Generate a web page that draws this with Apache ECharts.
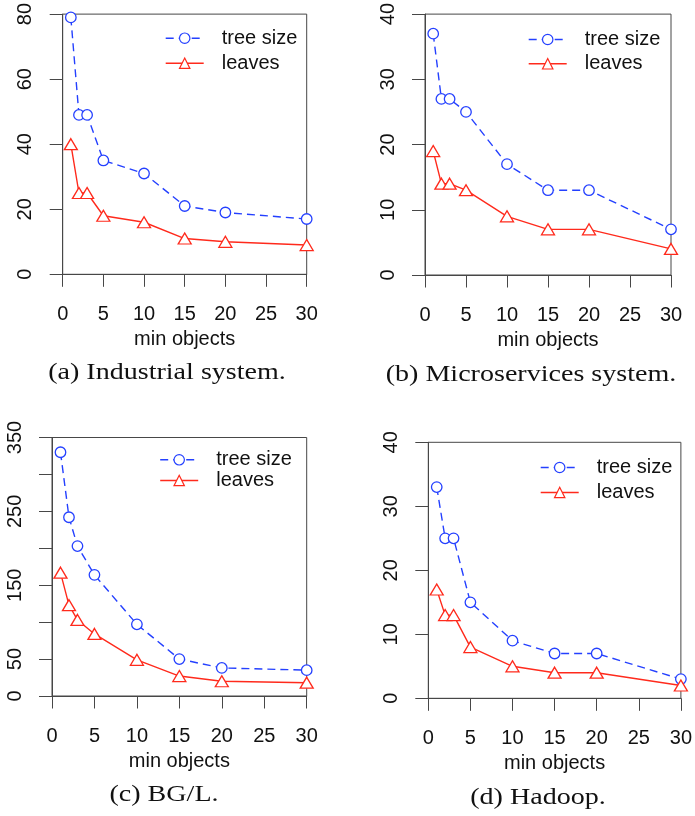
<!DOCTYPE html>
<html>
<head>
<meta charset="utf-8">
<script src="https://cdn.jsdelivr.net/npm/echarts@6/dist/echarts.min.js"></script>
<style>
  html, body { margin: 0; padding: 0; background: #fff; }
  #chart { width: 695px; height: 816px; }
</style>
</head>
<body>
<div id="chart"></div>
<script>
// x positions (min objects setting) shared by all four panels
const minObjects = [1, 2, 3, 5, 10, 15, 20, 30];

// (a) Industrial system
const treeIndustrial = [79, 49, 49, 35, 31, 21, 19, 17];
const leavesIndustrial = [40, 25, 25, 18, 16, 11, 10, 9];
// (b) Microservices system
const treeMicro = [37, 27, 27, 25, 17, 13, 13, 7];
const leavesMicro = [19, 14, 14, 13, 9, 7, 7, 4];
// (c) BG/L
const treeBgl = [330, 242, 203, 164, 97, 50, 38, 35];
const leavesBgl = [167, 123, 103, 84, 49, 27, 20, 18];
// (d) Hadoop
const treeHadoop = [33, 25, 25, 15, 9, 7, 7, 3];
const leavesHadoop = [17, 13, 13, 8, 5, 4, 4, 2];

// axis tick labels
const xTickLabels = ['0', '5', '10', '15', '20', '25', '30'];
const yTicksIndustrial = ['0', '20', '40', '60', '80'];
const yTicksMicro = ['0', '10', '20', '30', '40'];
const yTicksBgl = ['0', '50', '150', '250', '350'];
const yTicksHadoop = ['0', '10', '20', '30', '40'];

const seriesNames = ['tree size', 'leaves'];
const captions = ['(a) Industrial system.', '(b) Microservices system.', '(c) BG/L.', '(d) Hadoop.'];

const BLUE = '#2440ff';
const RED = '#ff2a1c';
const AXIS = '#474747';
const SANS = 'Liberation Sans, Arial, sans-serif';

const panels = [
  { tree: treeIndustrial, leaves: leavesIndustrial, yTicks: yTicksIndustrial, yMax: 80, yStep: 20,
    grid: { left: 62.7, top: 14, width: 244, height: 260.3 },
    legend: { left: 165, top: 28.2, gap: 5 }, caption: [167, 373] },
  { tree: treeMicro, leaves: leavesMicro, yTicks: yTicksMicro, yMax: 40, yStep: 10,
    grid: { left: 425, top: 14, width: 246, height: 261 },
    legend: { left: 528, top: 29.5, gap: 4.3 }, caption: [531, 375] },
  { tree: treeBgl, leaves: leavesBgl, yTicks: yTicksBgl, yMax: 350, yStep: 50,
    grid: { left: 52, top: 437.5, width: 254.7, height: 258.5 },
    legend: { left: 159.5, top: 449.8, gap: 0.7 }, caption: [164, 795] },
  { tree: treeHadoop, leaves: leavesHadoop, yTicks: yTicksHadoop, yMax: 40, yStep: 10,
    grid: { left: 428.3, top: 442.3, width: 255, height: 256 },
    legend: { left: 540, top: 457.5, gap: 5 }, caption: [538, 798] }
];

const grids = [], xAxes = [], yAxes = [], series = [], legends = [], graphics = [];

panels.forEach((p, i) => {
  grids.push(Object.assign({
    show: true, borderColor: AXIS, borderWidth: 1, backgroundColor: 'transparent'
  }, p.grid));

  xAxes.push({
    type: 'value', gridIndex: i, min: 0, max: 30, interval: 5,
    name: 'min objects', nameLocation: 'middle', nameGap: 55,
    nameTextStyle: { fontFamily: SANS, fontSize: 20, color: '#111' },
    axisLine: { show: true, onZero: false, lineStyle: { color: AXIS, width: 1 } },
    axisTick: { show: true, inside: false, length: 12.5, lineStyle: { color: AXIS, width: 1 } },
    axisLabel: {
      margin: 30, fontFamily: SANS, fontSize: 20, color: '#111',
      formatter: v => (xTickLabels.indexOf(String(v)) >= 0 ? String(v) : ''),
      showMinLabel: true, showMaxLabel: true, hideOverlap: false
    },
    splitLine: { show: false }
  });

  yAxes.push({
    type: 'value', gridIndex: i, min: 0, max: p.yMax, interval: p.yStep,
    axisLine: { show: true, onZero: false, lineStyle: { color: AXIS, width: 1 } },
    axisTick: { show: true, inside: false, length: 13, lineStyle: { color: AXIS, width: 1 } },
    axisLabel: {
      rotate: 90, margin: 27, fontFamily: SANS, fontSize: 20, color: '#111',
      formatter: v => (p.yTicks.indexOf(String(v)) >= 0 ? String(v) : ''),
      showMinLabel: true, showMaxLabel: true, hideOverlap: false
    },
    splitLine: { show: false }
  });

  const toPairs = vals => minObjects.map((x, k) => [x, vals[k]]);

  series.push({
    name: seriesNames[0], type: 'line', xAxisIndex: i, yAxisIndex: i,
    data: toPairs(p.tree), clip: false, animation: false,
    symbol: 'circle', symbolSize: 10.5,
    itemStyle: { color: '#fff', borderColor: BLUE, borderWidth: 1.3 },
    lineStyle: { color: BLUE, width: 1.4, type: [8, 5] },
    emphasis: { disabled: true }
  });
  series.push({
    name: seriesNames[1], type: 'line', xAxisIndex: i, yAxisIndex: i,
    data: toPairs(p.leaves), clip: false, animation: false,
    symbol: 'triangle', symbolSize: [13, 11],
    itemStyle: { color: '#fff', borderColor: RED, borderWidth: 1.3 },
    lineStyle: { color: RED, width: 1.4, type: 'solid' },
    emphasis: { disabled: true }
  });

  legends.push({
    show: true, orient: 'vertical', left: p.legend.left, top: p.legend.top,
    padding: 0, itemGap: p.legend.gap, itemWidth: 38, itemHeight: 13,
    data: seriesNames, selectedMode: false,
    itemStyle: { borderWidth: 1.2 },
    lineStyle: { width: 1.4 },
    textStyle: { fontFamily: SANS, fontSize: 20, color: '#111', padding: [0, 0, 0, 13] }
  });

  graphics.push({
    type: 'text', x: p.caption[0], y: p.caption[1], scaleX: 1.22,
    style: {
      text: captions[i], fontFamily: 'Liberation Serif, Times New Roman, serif',
      fontSize: 23, fill: '#111', textAlign: 'center', textVerticalAlign: 'middle'
    }
  });
});

const chart = echarts.init(document.getElementById('chart'), null, { renderer: 'canvas' });
chart.setOption({
  backgroundColor: '#fff',
  animation: false,
  grid: grids,
  xAxis: xAxes,
  yAxis: yAxes,
  legend: legends,
  series: series,
  graphic: graphics
});
</script>
</body>
</html>
